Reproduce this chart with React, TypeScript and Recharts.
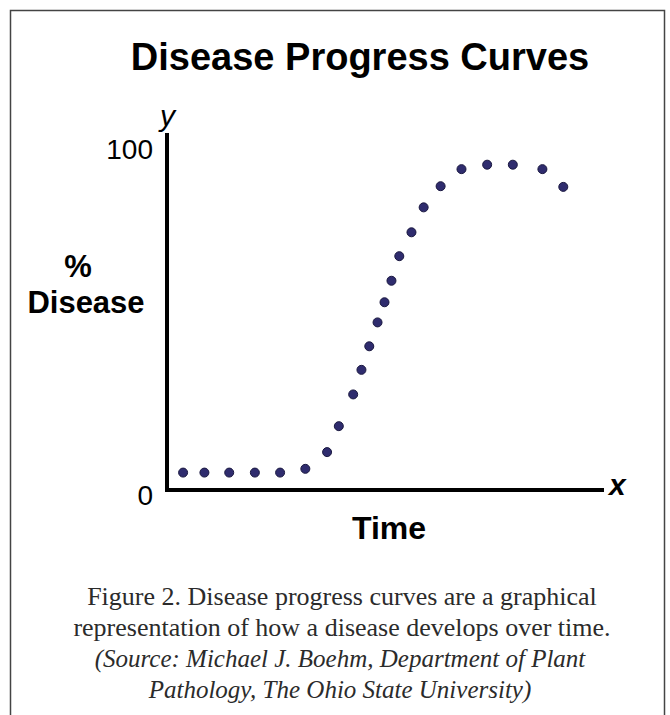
import React from 'react';
import { ScatterChart, Scatter, XAxis, YAxis } from 'recharts';

// time (arbitrary units, 0-100) and % disease
const timeValues = [3.7, 8.6, 14.3, 20.2, 26.0, 31.8, 36.8, 39.5, 42.8, 44.7, 46.5, 48.4, 50.0, 51.6, 53.4, 56.2, 59.0, 62.9, 67.7, 73.6, 79.5, 86.3, 91.1];
const diseaseValues = [5.1, 5.1, 5.1, 5.1, 5.1, 6.2, 11.1, 18.7, 28.0, 35.2, 42.1, 49.1, 55.0, 61.3, 68.5, 75.5, 82.8, 89.0, 94.0, 95.3, 95.3, 94.0, 88.8];
const yTicks = [0, 100];

const title = 'Disease Progress Curves';
const yLabelLines = ['%', 'Disease'];
const xLabel = 'Time';
const captionLines = [
    'Figure 2. Disease progress curves are a graphical',
    'representation of how a disease develops over time.',
];
const sourceLines = [
    '(Source: Michael J. Boehm, Department of Plant',
    'Pathology, The Ohio State University)',
];

const data = timeValues.map((t, i) => ({ time: t, disease: diseaseValues[i] }));

const SANS = '"Liberation Sans", Arial, sans-serif';
const SERIF = '"Liberation Serif", "Times New Roman", serif';

const YTick = (props: any) => {
    const { x, y, payload } = props;
    return (
        <text
            x={x - 6}
            y={y + (payload.value === 0 ? 15 : 10)}
            textAnchor="end"
            fontFamily={SANS}
            fontSize={28}
            fill="#000"
        >
            {payload.value}
        </text>
    );
};

const Dot = (props: any) => {
    const { cx, cy } = props;
    return <circle cx={cx} cy={cy} r={4.5} fill="#2f2c6e" stroke="#1a1840" strokeWidth={1} />;
};

const App: React.FC = () => {
    const axisLine = { stroke: '#000', strokeWidth: 4, strokeLinecap: 'square' as const };

    return (
        <div style={{ position: 'absolute', left: 0, top: 0, width: 670, height: 715, background: '#fff', overflow: 'hidden' }}>
            <ScatterChart width={670} height={715} margin={{ top: 135, right: 68, bottom: 195, left: 107 }}>
                <XAxis
                    type="number"
                    dataKey="time"
                    domain={[0, 100]}
                    height={30}
                    tick={false}
                    tickLine={false}
                    axisLine={axisLine}
                />
                <YAxis
                    type="number"
                    dataKey="disease"
                    domain={[0, 104]}
                    ticks={yTicks}
                    width={60}
                    tickLine={false}
                    axisLine={axisLine}
                    tick={<YTick />}
                />
                <Scatter data={data} shape={<Dot />} isAnimationActive={false} />
            </ScatterChart>

            <svg width={670} height={715} style={{ position: 'absolute', left: 0, top: 0, pointerEvents: 'none' }}>
                <rect x={10.5} y={10.5} width={654} height={720} fill="none" stroke="#444" strokeWidth={1.5} />
                <text x={360} y={70} textAnchor="middle" fontFamily={SANS} fontWeight="bold" fontSize={38} fill="#000">
                    {title}
                </text>
                <text x={160} y={126} fontFamily={SANS} fontStyle="italic" fontSize={30} fill="#000">y</text>
                <text x={609} y={495} fontFamily={SANS} fontStyle="italic" fontWeight="bold" fontSize={30} fill="#000">x</text>
                <text x={78} y={277} textAnchor="middle" fontFamily={SANS} fontWeight="bold" fontSize={31} fill="#000">
                    {yLabelLines[0]}
                </text>
                <text x={86} y={313} textAnchor="middle" fontFamily={SANS} fontWeight="bold" fontSize={31} fill="#000">
                    {yLabelLines[1]}
                </text>
                <text x={389} y={539} textAnchor="middle" fontFamily={SANS} fontWeight="bold" fontSize={32} fill="#000">
                    {xLabel}
                </text>
                {captionLines.map((line, i) => (
                    <text key={line} x={342} y={605 + i * 31} textAnchor="middle" fontFamily={SERIF} fontSize={26} fill="#2b2b2b">
                        {line}
                    </text>
                ))}
                {sourceLines.map((line, i) => (
                    <text key={line} x={340} y={667 + i * 31} textAnchor="middle" fontFamily={SERIF} fontStyle="italic" fontSize={25} fill="#2b2b2b">
                        {line}
                    </text>
                ))}
            </svg>
        </div>
    );
};

export default App;
